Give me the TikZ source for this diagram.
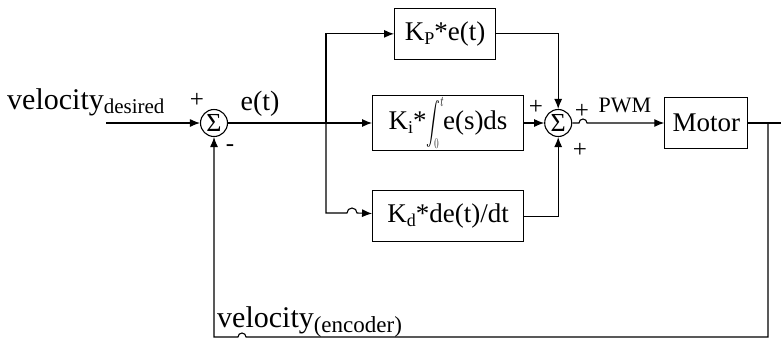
\documentclass[tikz,border=0pt]{standalone}
\usepackage{fontspec}
\usepackage{exscale}
\usepackage{graphicx}
\setmainfont{Liberation Serif}
\usetikzlibrary{arrows.meta, positioning, calc}

% low subscript as in the drawing
\newcommand{\lsub}[1]{\raisebox{-4pt}{\fontsize{18}{18}\selectfont #1}}

\begin{document}
\begin{tikzpicture}[
    x=1pt, y=-1pt,
    block/.style={draw, rectangle, line width=1.1pt, minimum height=51pt, inner sep=2pt, font=\fontsize{27}{30}\selectfont},
    sumnode/.style={draw, circle, line width=1.1pt, minimum size=27pt, inner sep=0pt, font=\fontsize{26}{26}\selectfont},
    label/.style={font=\fontsize{30}{32}\selectfont, inner sep=0pt},
    sign/.style={font=\fontsize{25}{25}\selectfont, inner sep=0pt},
    arrow/.style={draw, line width=1.1pt, -{Latex[length=10pt,width=8pt]}}
]
\useasboundingbox (0,0) rectangle (781,338);

\node[sumnode] (s1) at (214,123) {Σ};
\node[block, minimum width=151pt, right=144pt of s1] (ki) {K\lsub{i}*\scalebox{0.55}[0.85]{$\displaystyle\int_0^t$}\kern-1pt e(s)ds};
\node[block, minimum width=101pt, above=35pt of ki, xshift=-3pt] (kp) {K\lsub{P}*e(t)};
\node[block, minimum width=151pt, below=39pt of ki] (kd) {K\lsub{d}*de(t)/dt};
\node[sumnode, right=20pt of ki] (s2) {Σ};
\node[block, minimum width=83pt, right=92pt of s2] (motor) {Motor};

\coordinate (in) at (106,123);
\coordinate (branch) at (326,123);
\coordinate (hopk) at (347,213);
\coordinate (hopp) at (579,123);
\coordinate (fb) at (768,123);
\coordinate (out) at (792,123);
\coordinate (hopb) at (246,337);

% labels
\node[label, anchor=base west] (vdes) at (7,109) {velocity\lsub{\fontsize{21}{21}\selectfont desired}};
\node[label, anchor=base west] (venc) at (217,327) {velocity\raisebox{-5pt}{\fontsize{23}{23}\selectfont (encoder)}};
\node[label, font=\fontsize{28}{30}\selectfont, anchor=base] (et) at (260,110) {e(t)};
\node[sign, font=\fontsize{22}{22}\selectfont, anchor=base] (pwm) at (625,112) {PWM};
\node[sign] (p1) at (197,100) {+};
\node[sign] (m1) at (230,148) {-};
\node[sign] (p2) at (536,107) {+};
\node[sign] (p3) at (582,111) {+};
\node[sign] (p4) at (580,150) {+};

\draw[arrow] (in) -- (s1);
\draw[arrow] (s1) -- (ki);
\draw[arrow] (branch) |- (kp);
\draw[arrow] (branch) |- (hopk) arc[start angle=180, end angle=0, radius=5pt] -- (kd);
\draw[arrow] (ki) -- (s2);
\draw[arrow] (kp) -| (s2);
\draw[arrow] (kd) -| (s2);
\draw[arrow] (s2) -- (hopp) arc[start angle=180, end angle=0, radius=4pt] -- (motor);
\draw[arrow] (motor) -- (out);
\draw[arrow] (fb) |- (hopb) arc[start angle=0, end angle=180, radius=4pt] -- (s1 |- hopb) -- (s1);

\end{tikzpicture}
\end{document}
